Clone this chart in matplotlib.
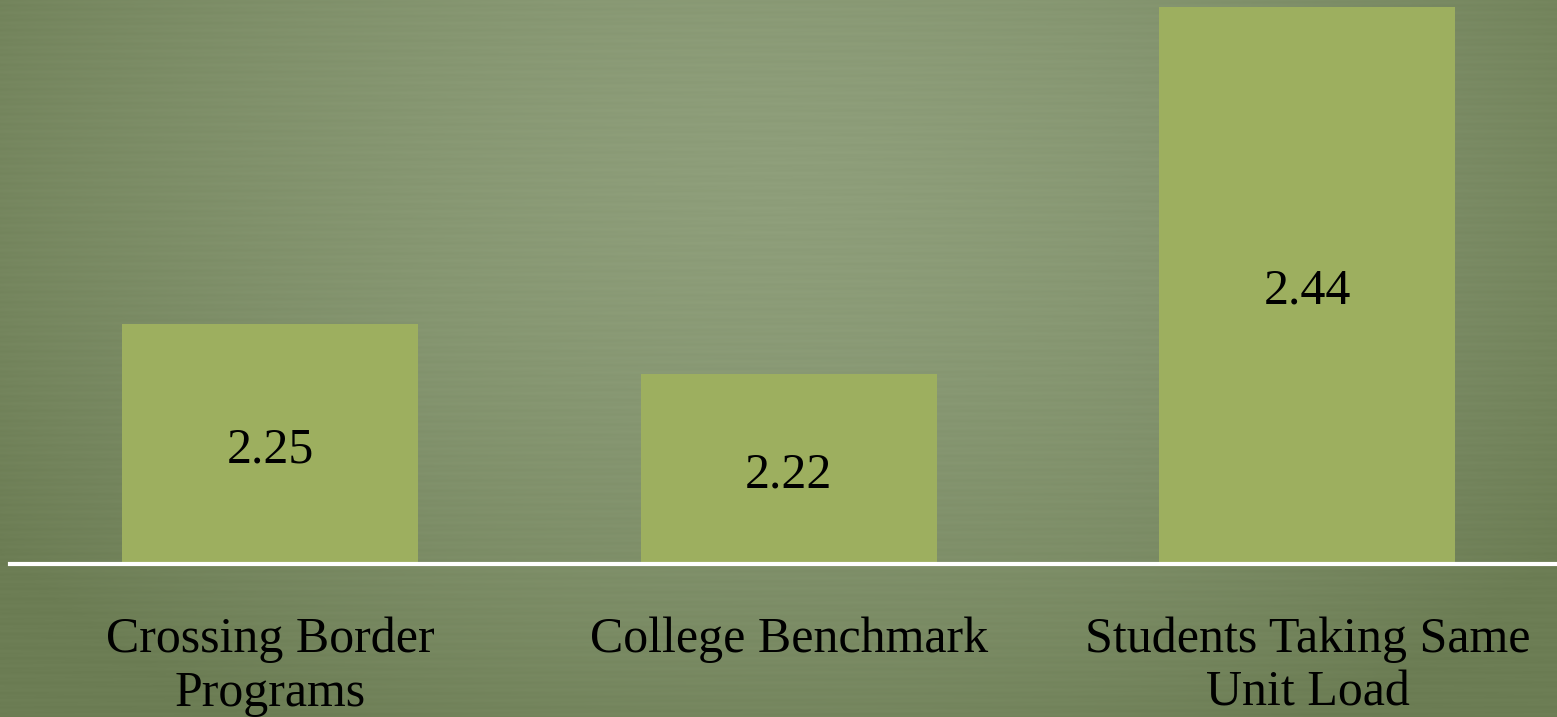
import numpy as np
import matplotlib.pyplot as plt
import matplotlib.transforms as mtransforms
from matplotlib.colors import to_rgb

categories = ["Crossing Border\nPrograms", "College Benchmark", "Students Taking Same\nUnit Load"]
values = [2.25, 2.22, 2.44]
value_labels = ["2.25", "2.22", "2.44"]

BAR_COLOR = "#9DAF5F"
LIGHT = np.array(to_rgb("#8E9E7A"))
DARK = np.array(to_rgb("#6C7D54"))

W, H = 1557, 717
fig = plt.figure(figsize=(W / 100, H / 100), dpi=100)

# background: soft radial vignette with faint horizontal grain
bg = fig.add_axes([0, 0, 1, 1])
yy, xx = np.mgrid[0:H, 0:W]
d = np.sqrt(((xx - 780) / 950.0) ** 2 + ((yy - 180) / 650.0) ** 2)
t = np.clip(d, 0, 1) ** 1.6
img = LIGHT[None, None, :] * (1 - t[..., None]) + DARK[None, None, :] * t[..., None]
grain = 0.007 * np.sin(yy * 0.9) * np.sin(xx * 0.013 + yy * 0.37)
img = np.clip(img + grain[..., None], 0, 1)
bg.imshow(img, aspect="auto", extent=[0, W, H, 0])
bg.set_axis_off()

# plot area: bottom at baseline y=564 px, top at figure top
ax = fig.add_axes([0, 1 - 564 / H, 1, 564 / H])
ax.patch.set_alpha(0)
ymin, ymax = 2.1066, 2.444
x = np.arange(len(values))
xlo, xhi = -0.5205, 2.481
ax.bar(x, values, width=0.5706, color=BAR_COLOR)
ax.set_xlim(xlo, xhi)
ax.set_ylim(ymin, ymax)
shift = ax.transData + mtransforms.ScaledTranslation(0, -6 / 100, fig.dpi_scale_trans)
for xi, v, lab in zip(x, values, value_labels):
    ax.text(xi, (ymin + v) / 2, lab, ha="center", va="center", transform=shift,
            fontsize=36, family="Liberation Serif", color="black")
for s in ["top", "right", "left"]:
    ax.spines[s].set_visible(False)
ax.spines["bottom"].set_color("white")
ax.spines["bottom"].set_linewidth(3)
ax.spines["bottom"].set_bounds(xlo + 10 / 518.75, xhi)
ax.set_yticks([])
ax.set_xticks(x, categories)
ax.tick_params(axis="x", length=0, pad=38, labelsize=36)
for lbl in ax.get_xticklabels():
    lbl.set_family("Liberation Serif")
    lbl.set_linespacing(1.2)

fig.savefig("out.png", dpi=100)
